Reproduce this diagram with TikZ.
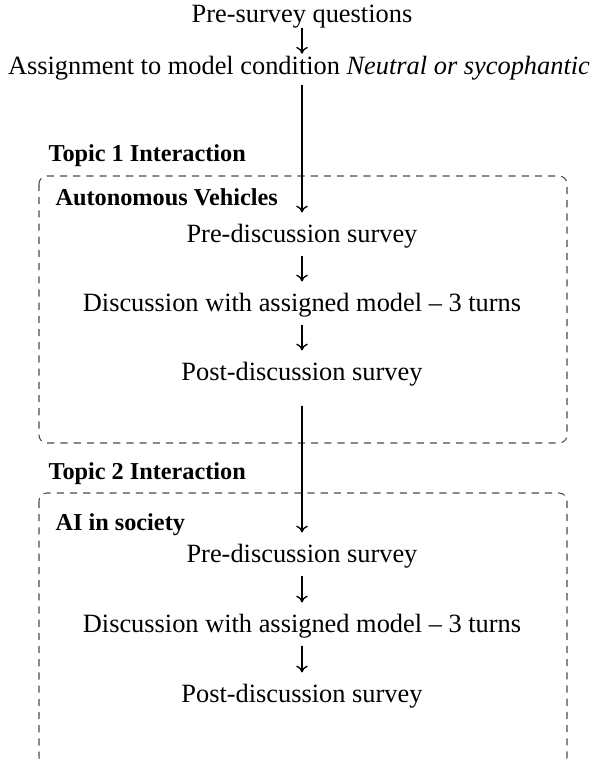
\documentclass[tikz,border=0pt]{standalone}
\usepackage{fontspec}
\setmainfont{Liberation Serif}
\usetikzlibrary{arrows.meta}
\begin{document}
\begin{tikzpicture}[x=0.379pt,y=-0.379pt,
  txt/.style={inner sep=0pt,text height=7pt,text depth=2pt,anchor=base,font=\fontsize{10}{12}\selectfont},
  lbl/.style={inner sep=0pt,anchor=base west,font=\fontsize{9.2}{11}\selectfont\bfseries},
  flow/.style={line width=0.5pt,-{To[length=2.6pt,width=4.4pt]}},
  short/.style={flow,shorten <=3pt,shorten >=4pt},
  grp/.style={draw=black!70,line width=0.4pt,dash pattern=on 2.7pt off 2.3pt,rounded corners=3pt}]
\useasboundingbox (0,0) rectangle (597,762);
\clip (0,0) rectangle (597,762);
% groups
\draw[grp] (39,176) rectangle (567,443);
\draw[grp] (39,493) rectangle (567,765);
% texts
\node[txt] (pre) at (302,22) {Pre-survey questions};
\node[txt] (assign) at (299,74) {Assignment to model condition \textit{Neutral or sycophantic}};
\node[lbl] (t1) at (48,161) {Topic 1 Interaction};
\node[lbl] (av) at (55,205) {Autonomous Vehicles};
\node[txt] (pd1) at (302,242) {Pre-discussion survey};
\node[txt] (d1) at (302,311) {Discussion with assigned model -- 3 turns};
\node[txt] (po1) at (302,380) {Post-discussion survey};
\node[lbl] (t2) at (48,479) {Topic 2 Interaction};
\node[lbl] (ai) at (55,530) {AI in society};
\node[txt] (pd2) at (302,562) {Pre-discussion survey};
\node[txt] (d2) at (302,632) {Discussion with assigned model -- 3 turns};
\node[txt] (po2) at (302,702) {Post-discussion survey};
% connectors
\draw[flow,shorten <=0pt,shorten >=0.5pt] (pre.south -| 302,0) -- (assign.north -| 302,0);
\draw[flow,shorten <=2pt,shorten >=4pt] (assign.south -| 302,0) -- (pd1.north);
\draw[short] (pd1.south) -- (d1.north);
\draw[short] (d1.south) -- (po1.north);
\draw[flow,shorten <=7.5pt,shorten >=4pt] (po1.south) -- (pd2.north);
\draw[short] (pd2.south) -- (d2.north);
\draw[short] (d2.south) -- (po2.north);
\end{tikzpicture}
\end{document}
